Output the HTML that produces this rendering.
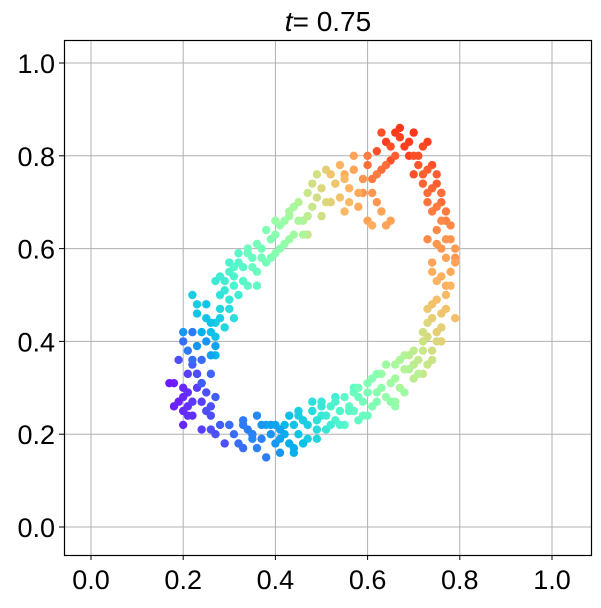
<!DOCTYPE html>
<html><head><meta charset="utf-8"><style>
body{margin:0;background:#fff;width:601px;height:603px;overflow:hidden}
svg text{font-family:"Liberation Sans",sans-serif;fill:#000}
</style></head><body>
<svg id="chart" width="601" height="603" xmlns="http://www.w3.org/2000/svg">
<text x="328" y="31" font-size="28" text-anchor="middle"><tspan font-style="italic">t</tspan>= 0.75</text>
<g id="grid"></g>
<g id="pts"></g>
<rect x="64.5" y="40.5" width="527" height="515" fill="none" stroke="#000" stroke-width="1.2"/>
<g id="ticks"></g>
</svg>
<script>
const xTicks=[0,0.2,0.4,0.6,0.8,1.0];
const yTicks=[0,0.2,0.4,0.6,0.8,1.0];
const tickLabels=["0.0","0.2","0.4","0.6","0.8","1.0"];
const xs=[0.18,0.19,0.2,0.21,0.19,0.2,0.22,0.21,0.23,0.24,0.22,0.2,0.25,0.27,0.26,0.24,0.25,0.27,0.23,0.22,0.25,0.27,0.29,0.28,0.26,0.24,0.28,0.29,0.31,0.33,0.34,0.36,0.37,0.38,0.39,0.4,0.41,0.42,0.43,0.44,0.45,0.46,0.47,0.48,0.49,0.5,0.51,0.52,0.53,0.55,0.56,0.57,0.58,0.59,0.6,0.61,0.62,0.63,0.64,0.65,0.66,0.67,0.68,0.69,0.7,0.71,0.72,0.73,0.74,0.73,0.75,0.76,0.74,0.77,0.75,0.78,0.74,0.76,0.78,0.75,0.77,0.74,0.76,0.73,0.75,0.72,0.74,0.71,0.73,0.7,0.68,0.66,0.64,0.62,0.65,0.63,0.61,0.6,0.59,0.62,0.64,0.6,0.58,0.56,0.55,0.54,0.53,0.52,0.5,0.49,0.48,0.47,0.46,0.45,0.44,0.43,0.42,0.41,0.4,0.39,0.38,0.37,0.36,0.35,0.34,0.33,0.32,0.31,0.3,0.29,0.3,0.32,0.26,
0.2,0.22,0.23,0.21,0.24,0.26,0.3,0.35,0.38,0.42,0.45,0.5,0.54,0.58,0.62,0.66,0.7,0.72,0.76,0.79,0.77,0.79,0.73,0.76,0.7,0.67,0.69,0.57,0.55,0.51,0.47,0.43,0.4,0.37,0.34,0.31,0.28,0.27,0.6,0.66,0.56,0.49,0.44,0.41,0.35,0.33,0.53,0.57,0.68,0.72,
0.17,0.18,0.2,0.21,0.22,0.23,0.22,0.21,0.2,0.23,0.24,0.26,0.25,0.27,0.23,0.28,0.26,0.24,0.25,0.26,
0.27,0.3,0.32,0.33,0.35,0.36,0.37,0.39,0.4,0.41,0.43,0.44,0.45,0.46,0.47,0.48,0.49,0.5,0.51,0.52,0.53,0.54,0.55,0.57,0.58,0.59,0.6,0.61,0.62,0.63,0.64,0.65,0.66,0.67,0.68,0.69,0.7,0.71,0.72,0.74,0.73,
0.75,0.74,0.76,0.77,0.73,0.75,0.78,0.76,0.74,0.77,0.79,0.75,0.77,0.79,0.76,0.78,0.75,0.77,0.73,0.74,0.76,0.72,0.73,0.75,0.71,0.72,0.7,0.69,0.67,
0.65,0.63,0.66,0.64,0.62,0.6,0.61,0.63,0.65,0.61,0.59,0.57,0.58,0.56,0.55,0.54,0.52,0.51,0.5,0.49,0.48,0.47,
0.46,0.45,0.44,0.43,0.42,0.41,0.4,0.39,0.38,0.37,0.36,0.35,0.36,0.34,0.33,0.32,0.31,0.3,0.29,0.28,0.27,0.3,0.31];
const ys=[0.31,0.27,0.25,0.29,0.36,0.4,0.42,0.33,0.3,0.27,0.24,0.22,0.25,0.28,0.33,0.36,0.4,0.39,0.46,0.5,0.48,0.44,0.43,0.47,0.21,0.21,0.22,0.18,0.2,0.17,0.21,0.24,0.19,0.15,0.22,0.18,0.16,0.2,0.24,0.17,0.2,0.23,0.19,0.25,0.21,0.24,0.21,0.26,0.23,0.22,0.26,0.29,0.23,0.27,0.31,0.26,0.29,0.33,0.28,0.31,0.35,0.3,0.34,0.37,0.32,0.36,0.4,0.35,0.38,0.44,0.42,0.46,0.48,0.5,0.53,0.55,0.57,0.6,0.62,0.64,0.66,0.68,0.7,0.72,0.74,0.76,0.78,0.8,0.83,0.85,0.82,0.85,0.83,0.81,0.79,0.77,0.75,0.78,0.72,0.7,0.65,0.66,0.69,0.73,0.68,0.78,0.74,0.7,0.73,0.76,0.69,0.72,0.66,0.7,0.63,0.67,0.61,0.65,0.59,0.62,0.57,0.6,0.55,0.58,0.52,0.56,0.59,0.54,0.57,0.51,0.47,0.5,0.44,
0.3,0.35,0.33,0.26,0.31,0.24,0.22,0.2,0.22,0.22,0.25,0.27,0.22,0.28,0.33,0.27,0.35,0.33,0.4,0.45,0.52,0.58,0.62,0.72,0.76,0.86,0.8,0.8,0.76,0.77,0.63,0.68,0.66,0.58,0.6,0.56,0.54,0.37,0.24,0.26,0.25,0.19,0.16,0.21,0.19,0.23,0.28,0.3,0.37,0.42,
0.31,0.26,0.28,0.24,0.27,0.33,0.36,0.38,0.42,0.39,0.42,0.42,0.45,0.41,0.48,0.45,0.37,0.31,0.29,0.26,
0.2,0.22,0.18,0.22,0.2,0.17,0.22,0.2,0.22,0.19,0.18,0.22,0.24,0.18,0.22,0.27,0.23,0.26,0.24,0.22,0.27,0.25,0.28,0.25,0.3,0.24,0.29,0.32,0.27,0.3,0.35,0.27,0.32,0.36,0.29,0.34,0.38,0.33,0.38,0.36,0.41,
0.4,0.45,0.43,0.47,0.47,0.49,0.52,0.54,0.55,0.58,0.57,0.61,0.62,0.6,0.66,0.65,0.69,0.68,0.7,0.73,0.72,0.74,0.77,0.76,0.78,0.82,0.8,0.83,0.84,
0.82,0.85,0.8,0.78,0.76,0.8,0.72,0.68,0.66,0.65,0.75,0.77,0.72,0.7,0.75,0.71,0.76,0.7,0.67,0.71,0.74,0.67,
0.63,0.66,0.69,0.62,0.66,0.6,0.63,0.58,0.64,0.58,0.61,0.56,0.52,0.59,0.53,0.57,0.52,0.55,0.53,0.5,0.53,0.49,0.45];
const cs=[0.04,0.04,0.05,0.06,0.1,0.14,0.16,0.08,0.08,0.08,0.06,0.05,0.1,0.12,0.13,0.14,0.2,0.22,0.28,0.3,0.28,0.3,0.32,0.32,0.1,0.08,0.12,0.1,0.14,0.14,0.16,0.18,0.17,0.16,0.2,0.2,0.2,0.24,0.27,0.24,0.28,0.3,0.3,0.33,0.33,0.36,0.36,0.4,0.4,0.42,0.44,0.46,0.44,0.48,0.5,0.5,0.52,0.55,0.54,0.56,0.58,0.58,0.6,0.62,0.62,0.63,0.65,0.64,0.66,0.68,0.7,0.72,0.72,0.74,0.75,0.77,0.78,0.8,0.8,0.82,0.83,0.84,0.86,0.86,0.88,0.88,0.9,0.9,0.92,0.93,0.92,0.93,0.92,0.9,0.9,0.86,0.84,0.86,0.8,0.8,0.78,0.78,0.77,0.75,0.74,0.75,0.72,0.7,0.68,0.66,0.64,0.64,0.6,0.6,0.57,0.57,0.54,0.54,0.52,0.5,0.48,0.47,0.46,0.45,0.43,0.42,0.42,0.4,0.4,0.36,0.33,0.38,0.28,
0.05,0.12,0.1,0.06,0.1,0.1,0.14,0.18,0.22,0.26,0.3,0.36,0.4,0.46,0.52,0.56,0.62,0.64,0.7,0.73,0.76,0.8,0.82,0.87,0.9,0.93,0.92,0.78,0.76,0.7,0.64,0.58,0.55,0.47,0.46,0.42,0.38,0.26,0.46,0.54,0.42,0.32,0.24,0.22,0.18,0.16,0.38,0.44,0.6,0.66,
0.03,0.04,0.05,0.06,0.07,0.1,0.14,0.16,0.2,0.2,0.24,0.27,0.28,0.28,0.3,0.3,0.22,0.12,0.1,0.1,
0.1,0.14,0.14,0.16,0.17,0.17,0.2,0.2,0.22,0.22,0.24,0.28,0.3,0.27,0.3,0.34,0.34,0.36,0.37,0.38,0.4,0.41,0.43,0.44,0.47,0.46,0.49,0.51,0.5,0.53,0.56,0.53,0.57,0.59,0.56,0.6,0.62,0.61,0.64,0.65,0.67,
0.68,0.7,0.7,0.72,0.71,0.73,0.75,0.76,0.76,0.78,0.78,0.8,0.8,0.79,0.82,0.82,0.84,0.84,0.85,0.87,0.86,0.87,0.88,0.88,0.89,0.91,0.9,0.92,0.92,
0.9,0.9,0.88,0.86,0.84,0.84,0.8,0.78,0.78,0.76,0.8,0.78,0.77,0.74,0.74,0.72,0.72,0.68,0.66,0.66,0.66,0.62,
0.58,0.58,0.58,0.55,0.55,0.52,0.52,0.5,0.5,0.48,0.48,0.46,0.44,0.46,0.42,0.42,0.4,0.4,0.38,0.35,0.37,0.36,0.34];
const X=v=>91+v*461, Y=v=>527-v*464;
const NS="http://www.w3.org/2000/svg";
function rainbow(t){const c=v=>Math.round(255*Math.max(0,Math.min(1,v)));
return `rgb(${c(Math.abs(2*t-0.5))},${c(Math.sin(Math.PI*t))},${c(Math.cos(Math.PI*t/2))})`;}
const grid=document.getElementById('grid'),ticks=document.getElementById('ticks'),pts=document.getElementById('pts');
xTicks.forEach((v,i)=>{
 const l=document.createElementNS(NS,'line');
 
 
 l.setAttribute('x1',X(v));l.setAttribute('x2',X(v));l.setAttribute('y1',40);l.setAttribute('y2',555);
 l.setAttribute('stroke','#b0b0b0');l.setAttribute('stroke-width','1');grid.appendChild(l);
 const tk=document.createElementNS(NS,'line');
 
 
 tk.setAttribute('x1',X(v));tk.setAttribute('x2',X(v));tk.setAttribute('y1',555);tk.setAttribute('y2',560);
 tk.setAttribute('stroke','#000');ticks.appendChild(tk);
 const t=document.createElementNS(NS,'text');
 
 
 t.setAttribute('x',X(v));t.setAttribute('y',589);t.setAttribute('font-size','27');t.setAttribute('text-anchor','middle');
 t.textContent=tickLabels[i];ticks.appendChild(t);
});
yTicks.forEach((v,i)=>{
 const l=document.createElementNS(NS,'line');
 
 
 l.setAttribute('y1',Y(v));l.setAttribute('y2',Y(v));l.setAttribute('x1',64);l.setAttribute('x2',591);
 l.setAttribute('stroke','#b0b0b0');l.setAttribute('stroke-width','1');grid.appendChild(l);
 const tk=document.createElementNS(NS,'line');
 
 
 tk.setAttribute('y1',Y(v));tk.setAttribute('y2',Y(v));tk.setAttribute('x1',59);tk.setAttribute('x2',64);
 tk.setAttribute('stroke','#000');ticks.appendChild(tk);
 const t=document.createElementNS(NS,'text');
 
 
 t.setAttribute('x',55);t.setAttribute('y',Y(v)+10);t.setAttribute('font-size','27');t.setAttribute('text-anchor','end');
 t.textContent=tickLabels[i];ticks.appendChild(t);
});
xs.forEach((x,i)=>{
 const c=document.createElementNS(NS,'circle');
 
 
 c.setAttribute('cx',X(x));c.setAttribute('cy',Y(ys[i]));c.setAttribute('r','4.2');
 c.setAttribute('fill',rainbow(cs[i]));pts.appendChild(c);
});
</script>
</body></html>
